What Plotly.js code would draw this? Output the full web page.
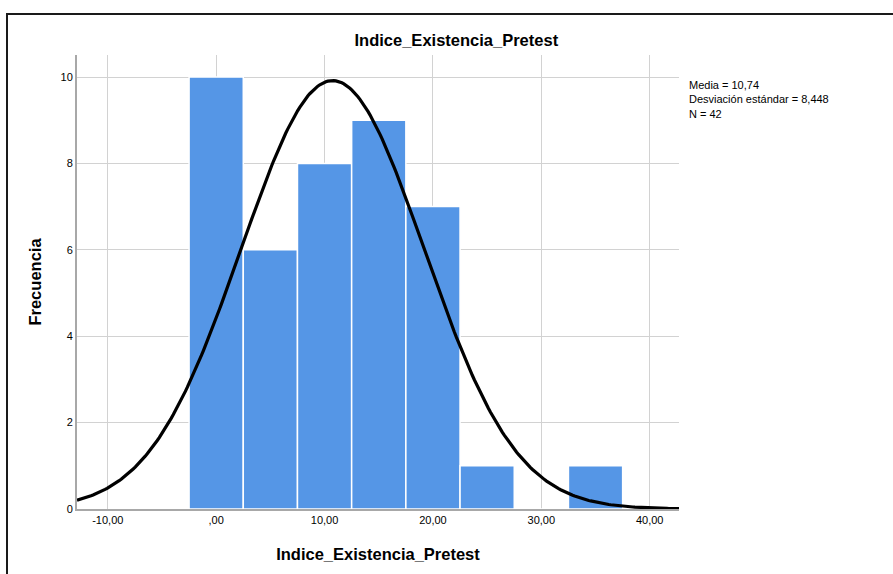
<!DOCTYPE html>
<html><head><meta charset="utf-8">
<script src="https://cdn.plot.ly/plotly-3.0.1.min.js"></script>
<style>
body{margin:0;background:#fff;}
#wrap{position:relative;width:893px;height:574px;overflow:hidden;}
#chart{position:absolute;left:0;top:0;width:893px;height:574px;}
#frame{position:absolute;left:6px;top:13px;width:1000px;height:1000px;border:2px solid #1a1a1a;pointer-events:none;}
</style>
</head><body>
<div id="wrap"><div id="chart"></div><div id="frame"></div></div>
<script>
// Data
const binCenters = [0, 5, 10, 15, 20, 25, 30, 35];
const frequencies = [10, 6, 8, 9, 7, 1, 0, 1];
const binWidth = 5;
const mean = 10.74;
const stdDev = 8.448;
const nObs = 42;
const xTickVals = [-10, 0, 10, 20, 30, 40];
const xTickText = ["-10,00", ",00", "10,00", "20,00", "30,00", "40,00"];
const yTickVals = [0, 2, 4, 6, 8, 10];

// normal curve scaled to the histogram (from the stated mean, sd and N)
const xMin = -12.84, xMax = 42.7;
const cx = [], cy = [];
for (let i = 0; i <= 300; i++) {
  const x = xMin + (xMax - xMin) * i / 300;
  const z = (x - mean) / stdDev;
  cx.push(x);
  cy.push(nObs * binWidth / (stdDev * Math.sqrt(2 * Math.PI)) * Math.exp(-0.5 * z * z));
}

const traces = [
  {type:'bar', x: binCenters, y: frequencies, width: binWidth,
   marker:{color:'#5596e6', line:{color:'#ffffff', width:1.5}}, hoverinfo:'x+y'},
  {type:'scatter', mode:'lines', x: cx, y: cy, line:{color:'#000000', width:3.2}, hoverinfo:'skip'}
];

const layout = {
  width: 893, height: 574,
  margin:{l:77, r:214, t:55, b:65},
  paper_bgcolor:'rgba(0,0,0,0)', plot_bgcolor:'#ffffff',
  showlegend:false,
  bargap:0,
  font:{family:'Liberation Sans, Arial, sans-serif', color:'#000'},
  title:{text:'Indice_Existencia_Pretest', font:{size:16.5, color:'#000', weight:'bold'},
         x:0.511, xref:'container', xanchor:'center', y:1-40/574, yref:'container', yanchor:'middle'},
  xaxis:{range:[xMin, xMax], tickvals:xTickVals, ticktext:xTickText, showgrid:true, gridcolor:'#d2d2d2', gridwidth:1,
         zeroline:false, showline:true, linecolor:'#a8a8a8', linewidth:2, ticks:'', ticklen:0,
         tickfont:{size:11, color:'#000'},
         title:{text:'Indice_Existencia_Pretest', font:{size:16.5, color:'#000', weight:'bold'}, standoff:23}},
  yaxis:{range:[0, 10.51], tickvals:yTickVals, showgrid:true, gridcolor:'#d2d2d2', gridwidth:1,
         zeroline:false, showline:true, linecolor:'#a8a8a8', linewidth:2, ticks:'', ticklen:0,
         tickfont:{size:11, color:'#000'},
         title:{text:'Frecuencia', font:{size:16.5, color:'#000', weight:'bold'}, standoff:15}},
  annotations:[{xref:'paper', yref:'paper', x:1.0133, y:(509-77)/454, xanchor:'left', yanchor:'top',
    align:'left', showarrow:false, text:'Media = 10,74<br>Desviación estándar = 8,448<br>N = 42',
    font:{size:11, color:'#000', family:'Liberation Sans Narrow, Liberation Sans, Arial, sans-serif'}}]
};

Plotly.newPlot('chart', traces, layout, {displayModeBar:false, staticPlot:true});
</script>
</body></html>
